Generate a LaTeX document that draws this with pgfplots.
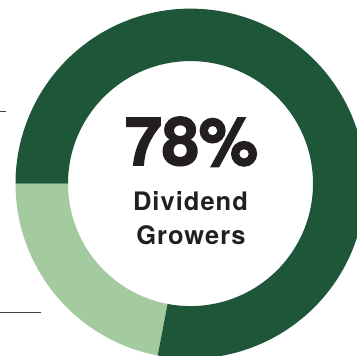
\documentclass[border=0pt]{standalone}
\usepackage{pgfplots}
\pgfplotsset{compat=1.18}
\usepackage{fontspec}
\setmainfont{TeX Gyre Heros}
\newfontfamily\heavyfont[FakeBold=2.5]{TeX Gyre Heros Bold}
\newfontfamily\labelfont[LetterSpace=4]{TeX Gyre Heros Bold}
\definecolor{darkg}{HTML}{1E5639}
\definecolor{lightg}{HTML}{A3CB9F}
\definecolor{txt}{HTML}{231F20}
\begin{document}
\begin{tikzpicture}
% shares (percent)
\def\growers{78}
\def\others{22}
\pgfmathsetmacro{\aStart}{180}
\pgfmathsetmacro{\aSplit}{180+\others*3.6}
\pgfmathsetmacro{\aEnd}{180+(\others+\growers)*3.6}
\begin{axis}[
  scale only axis, width=357pt, height=356pt,
  xmin=0, xmax=357, ymin=0, ymax=356,
  hide axis, clip=true,
]
\def\cx{190.5}
\def\cy{171.5}
\def\Ro{175}
\def\Ri{122.5}
% light segment
\fill[lightg] ([shift={(axis cs:\cx,\cy)}]\aStart:\Ro pt) arc[start angle=\aStart, end angle=\aSplit, radius=\Ro pt]
  -- ([shift={(axis cs:\cx,\cy)}]\aSplit:\Ri pt) arc[start angle=\aSplit, end angle=\aStart, radius=\Ri pt] -- cycle;
% dark segment
\fill[darkg] ([shift={(axis cs:\cx,\cy)}]\aSplit:\Ro pt) arc[start angle=\aSplit, end angle=\aEnd, radius=\Ro pt]
  -- ([shift={(axis cs:\cx,\cy)}]\aEnd:\Ri pt) arc[start angle=\aEnd, end angle=\aSplit, radius=\Ri pt] -- cycle;
% side rules
\addplot[draw=txt!85, line width=1pt, no marks] coordinates {(0,243.3) (6,243.3)};
\addplot[draw=txt!85, line width=1pt, no marks] coordinates {(0,42.7) (41,42.7)};
% labels
\node[anchor=base, text=txt, inner sep=0pt] at (axis cs:191.5,190) {\fontsize{66.5}{70}\heavyfont 78\%};
\node[anchor=base, text=txt, inner sep=0pt] at (axis cs:190.5,144.3) {\fontsize{25.5}{28}\labelfont Dividend};
\node[anchor=base, text=txt, inner sep=0pt] at (axis cs:191,110.3) {\fontsize{25.5}{28}\labelfont Growers};
\end{axis}
\end{tikzpicture}
\end{document}
